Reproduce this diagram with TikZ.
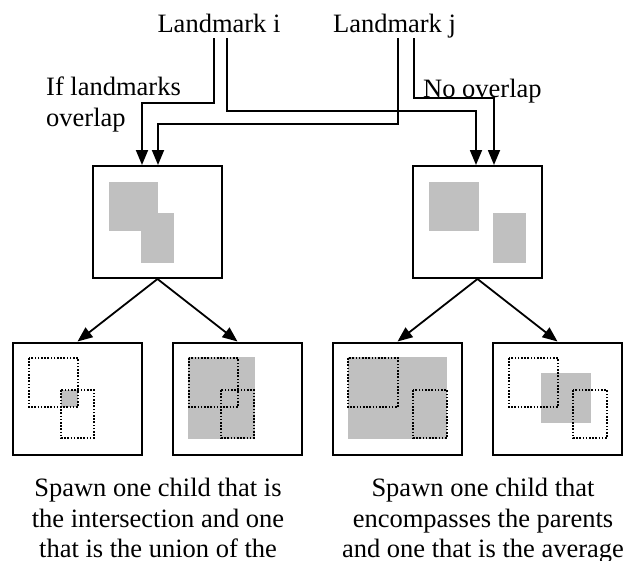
\documentclass[tikz,border=0pt]{standalone}
\usepackage{fontspec}
\setmainfont{Liberation Serif}
\usetikzlibrary{arrows.meta}
\definecolor{lgray}{HTML}{C0C0C0}
\tikzset{
  lbl/.style={inner sep=0pt, font={\fontsize{26.5}{30.5}\selectfont}},
  panel/.style={draw=black, line width=2pt, minimum width=129pt, minimum height=112pt, inner sep=0pt},
  conn/.style={line width=1.8pt, -{Triangle[width=12pt,length=15pt]}},
  dots/.style={line width=1.6pt, dash pattern=on 1.6pt off 1.6pt},
  grayfill/.style={fill=lgray, draw=none}
}
\begin{document}
\begin{tikzpicture}[x=1pt,y=-1pt]
\useasboundingbox (0,0) rectangle (624,560);
% labels
\node[lbl, anchor=base] (li) at (219,32) {Landmark i};
\node[lbl, anchor=base] (lj) at (394.5,32) {Landmark j};
\node[lbl, anchor=north west, align=left] (ov) at (46,77) {If landmarks\\overlap};
\node[lbl, anchor=base west] (no) at (423,97) {No overlap};
% panels
\node[panel] (pa) at (157.5,222) {};
\node[panel] (pb) at (477.5,222) {};
\node[panel] (c1) at (77.5,398.5) {};
\node[panel] (c2) at (237.5,398.5) {};
\node[panel] (c3) at (397.5,398.5) {};
\node[panel] (c4) at (557.5,398.5) {};
% shapes in parents
\path[grayfill] (109,182) rectangle (158,231);
\path[grayfill] (141,213) rectangle (174,263);
\path[grayfill] (429,182) rectangle (479,231);
\path[grayfill] (493,213) rectangle (526,263);
% child 1
\path[grayfill] (61,390) rectangle (78,407);
\draw[dots] (29,358) rectangle (78,407);
\draw[dots] (61,390) rectangle (94,438);
% child 2
\path[grayfill] (188,357) rectangle (255,439);
\draw[dots] (189,358) rectangle (238,407);
\draw[dots] (221,390) rectangle (254,438);
% child 3
\path[grayfill] (348,357) rectangle (447,439);
\draw[dots] (348,358) rectangle (398,407);
\draw[dots] (413,390) rectangle (447,438);
% child 4
\path[grayfill] (541,373) rectangle (591,423);
\draw[dots] (509,358) rectangle (558,407);
\draw[dots] (573,390) rectangle (607,438);
% bend points
\coordinate (b1) at (142,103);
\coordinate (b2) at (158,124);
\coordinate (b3) at (476,111);
\coordinate (b4) at (494,98);
% connectors from landmarks
\draw[conn] ([xshift=-5pt,yshift=-6pt]li.base) |- (b1) -- (b1 |- pa.north);
\draw[conn] ([xshift=3.5pt,yshift=-6pt]lj.base) |- (b2) -- (b2 |- pa.north);
\draw[conn] ([xshift=8pt,yshift=-6pt]li.base) |- (b3) -- (b3 |- pb.north);
\draw[conn] ([xshift=19.5pt,yshift=-6pt]lj.base) |- (b4) -- (b4 |- pb.north);
% connectors to children
\draw[conn] (pa.south) -- (c1.north);
\draw[conn] (pa.south) -- (c2.north);
\draw[conn] (pb.south) -- (c3.north);
\draw[conn] (pb.south) -- (c4.north);
% captions
\node[lbl, anchor=north, align=center] (t1) at (158,478) {Spawn one child that is\\the intersection and one\\that is the union of the};
\node[lbl, anchor=north, align=center] (t2) at (483,478) {Spawn one child that\\encompasses the parents\\and one that is the average};
\end{tikzpicture}
\end{document}
